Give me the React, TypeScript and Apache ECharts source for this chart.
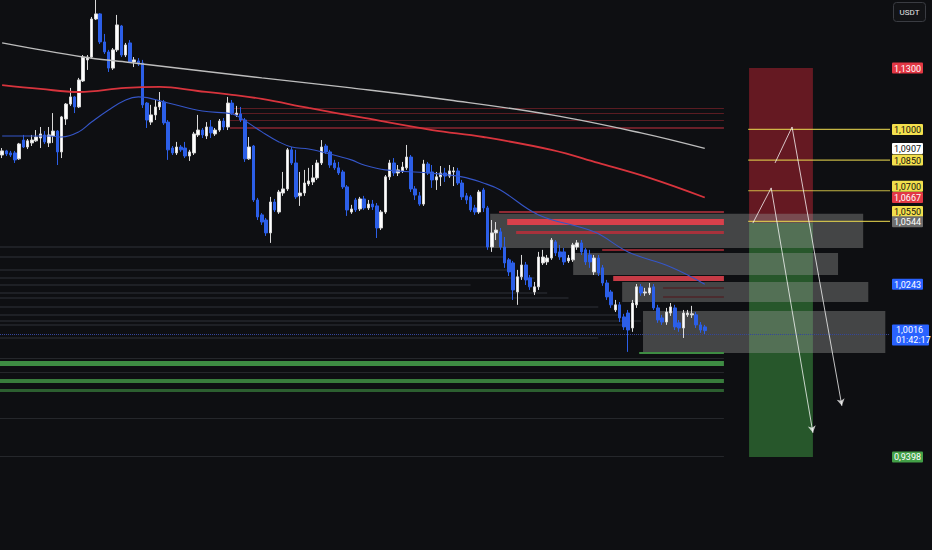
import React, { useEffect, useRef } from 'react';
import * as echarts from 'echarts';

const BG = '#0e0f12';
const FONT = 'Roboto, "Noto Sans", sans-serif';

// OHLC as [open, close, low, high]
const candles: number[][] = [
  [1.0875,1.0895,1.0860,1.0909],[1.0895,1.0880,1.0870,1.0900],[1.0885,1.0875,1.0865,1.0895],[1.0885,1.0851,1.0836,1.0895],
  [1.0856,1.0929,1.0851,1.0934],[1.0948,1.0914,1.0909,1.0973],[1.0914,1.0944,1.0904,1.0953],[1.0934,1.0948,1.0919,1.0973],
  [1.0944,1.0963,1.0939,1.0997],[1.0958,1.0978,1.0909,1.1012],[1.0973,1.0939,1.0929,1.0992],[1.0934,1.0973,1.0914,1.1012],
  [1.0968,1.0992,1.0934,1.1080],[1.0992,1.0890,1.0826,1.0997],[1.0890,1.1061,1.0860,1.1066],[1.1051,1.1124,1.1022,1.1129],
  [1.1124,1.1159,1.1115,1.1203],[1.1159,1.1110,1.1080,1.1164],[1.1110,1.1242,1.1105,1.1252],[1.1237,1.1354,1.1232,1.1364],
  [1.1340,1.1354,1.1291,1.1364],[1.1354,1.1540,1.1349,1.1550],[1.1540,1.1565,1.1535,1.1633],[1.1565,1.1428,1.1418,1.1569],
  [1.1428,1.1379,1.1369,1.1467],[1.1379,1.1300,1.1281,1.1389],[1.1300,1.1389,1.1291,1.1398],[1.1389,1.1511,1.1379,1.1560],
  [1.1506,1.1364,1.1354,1.1511],[1.1364,1.1413,1.1354,1.1423],[1.1423,1.1330,1.1325,1.1437],[1.1330,1.1340,1.1305,1.1354],
  [1.1335,1.1320,1.1310,1.1349],[1.1325,1.1120,1.1105,1.1340],[1.1129,1.1046,1.1007,1.1134],[1.1036,1.1071,1.1022,1.1120],
  [1.1071,1.1110,1.1046,1.1144],[1.1110,1.1134,1.1095,1.1183],[1.1134,1.1032,1.1022,1.1144],[1.1036,1.0900,1.0851,1.1046],
  [1.0909,1.0885,1.0875,1.0919],[1.0885,1.0914,1.0875,1.0939],[1.0914,1.0900,1.0890,1.0924],[1.0909,1.0870,1.0860,1.0939],
  [1.0870,1.0890,1.0846,1.0900],[1.0885,1.0978,1.0875,1.0988],[1.0973,1.0997,1.0963,1.1071],[1.0997,1.0973,1.0958,1.1007],
  [1.0968,1.1012,1.0953,1.1036],[1.1012,1.0983,1.0958,1.1046],[1.0978,1.0997,1.0968,1.1007],[1.0997,1.1041,1.0988,1.1051],
  [1.1041,1.1012,1.0997,1.1056],[1.1012,1.1129,1.0997,1.1159],[1.1129,1.1080,1.1071,1.1144],[1.1071,1.1080,1.1061,1.1115],
  [1.1076,1.1046,1.1036,1.1110],[1.1046,1.0856,1.0841,1.1056],[1.0856,1.0914,1.0851,1.0963],[1.0919,1.0655,1.0645,1.0924],
  [1.0655,1.0572,1.0557,1.0665],[1.0582,1.0547,1.0533,1.0591],[1.0557,1.0494,1.0479,1.0567],[1.0494,1.0645,1.0445,1.0670],
  [1.0645,1.0606,1.0596,1.0660],[1.0596,1.0694,1.0587,1.0704],[1.0689,1.0709,1.0675,1.0792],[1.0709,1.0900,1.0699,1.0909],
  [1.0900,1.0836,1.0826,1.0914],[1.0836,1.0670,1.0660,1.0900],[1.0675,1.0689,1.0626,1.0792],[1.0689,1.0738,1.0675,1.0802],
  [1.0733,1.0748,1.0723,1.0812],[1.0743,1.0763,1.0728,1.0826],[1.0763,1.0836,1.0753,1.0851],[1.0836,1.0914,1.0826,1.0948],
  [1.0919,1.0890,1.0880,1.0929],[1.0890,1.0826,1.0812,1.0900],[1.0836,1.0812,1.0802,1.0851],[1.0812,1.0787,1.0777,1.0841],
  [1.0792,1.0719,1.0709,1.0802],[1.0719,1.0606,1.0577,1.0728],[1.0596,1.0611,1.0587,1.0631],[1.0655,1.0606,1.0596,1.0665],
  [1.0611,1.0660,1.0601,1.0670],[1.0660,1.0616,1.0606,1.0675],[1.0616,1.0635,1.0606,1.0655],[1.0635,1.0621,1.0606,1.0655],
  [1.0626,1.0518,1.0469,1.0640],[1.0518,1.0596,1.0508,1.0606],[1.0596,1.0768,1.0587,1.0777],[1.0768,1.0836,1.0753,1.0851],
  [1.0836,1.0787,1.0772,1.0860],[1.0787,1.0802,1.0772,1.0826],[1.0797,1.0816,1.0787,1.0841],[1.0812,1.0865,1.0802,1.0924],
  [1.0865,1.0709,1.0694,1.0875],[1.0709,1.0679,1.0655,1.0723],[1.0675,1.0635,1.0626,1.0694],[1.0635,1.0831,1.0626,1.0851],
  [1.0831,1.0787,1.0777,1.0841],[1.0792,1.0753,1.0714,1.0826],[1.0753,1.0768,1.0704,1.0792],[1.0768,1.0787,1.0723,1.0821],
  [1.0787,1.0772,1.0743,1.0812],[1.0772,1.0797,1.0763,1.0826],[1.0792,1.0797,1.0723,1.0816],[1.0797,1.0738,1.0728,1.0812],
  [1.0738,1.0670,1.0655,1.0753],[1.0675,1.0655,1.0635,1.0689],[1.0670,1.0606,1.0596,1.0679],[1.0616,1.0596,1.0582,1.0631],
  [1.0596,1.0694,1.0587,1.0704],[1.0704,1.0616,1.0596,1.0714],[1.0616,1.0425,1.0411,1.0626],[1.0425,1.0494,1.0401,1.0557],
  [1.0494,1.0508,1.0459,1.0547],[1.0499,1.0425,1.0411,1.0518],[1.0425,1.0347,1.0323,1.0474],[1.0362,1.0303,1.0283,1.0371],
  [1.0347,1.0215,1.0166,1.0357],[1.0205,1.0279,1.0142,1.0313],[1.0279,1.0337,1.0264,1.0386],[1.0337,1.0264,1.0239,1.0352],
  [1.0274,1.0230,1.0215,1.0288],[1.0205,1.0230,1.0190,1.0254],[1.0230,1.0376,1.0215,1.0401],[1.0347,1.0376,1.0337,1.0411],
  [1.0352,1.0371,1.0337,1.0386],[1.0371,1.0459,1.0362,1.0469],[1.0450,1.0396,1.0381,1.0459],[1.0401,1.0376,1.0362,1.0435],
  [1.0401,1.0352,1.0337,1.0420],[1.0357,1.0371,1.0347,1.0386],[1.0362,1.0435,1.0352,1.0445],[1.0425,1.0445,1.0411,1.0459],
  [1.0445,1.0401,1.0386,1.0459],[1.0411,1.0352,1.0337,1.0420],[1.0386,1.0352,1.0323,1.0411],[1.0303,1.0371,1.0288,1.0386],
  [1.0371,1.0298,1.0283,1.0386],[1.0323,1.0249,1.0235,1.0337],[1.0249,1.0181,1.0166,1.0264],[1.0205,1.0142,1.0127,1.0215],
  [1.0117,1.0142,1.0107,1.0166],[1.0142,1.0078,1.0058,1.0156],[1.0083,1.0034,1.0019,1.0098],[1.0102,1.0019,0.9912,1.0117],
  [1.0029,1.0151,1.0010,1.0166],[1.0142,1.0230,1.0127,1.0244],[1.0230,1.0200,1.0186,1.0244],[1.0200,1.0205,1.0186,1.0225],
  [1.0200,1.0225,1.0190,1.0249],[1.0230,1.0127,1.0117,1.0244],[1.0127,1.0068,1.0054,1.0142],[1.0078,1.0058,1.0044,1.0093],
  [1.0058,1.0107,1.0044,1.0127],[1.0102,1.0132,1.0088,1.0151],[1.0127,1.0034,1.0019,1.0142],[1.0054,1.0029,1.0010,1.0068],
  [1.0029,1.0102,0.9980,1.0117],[1.0093,1.0102,1.0083,1.0117],[1.0093,1.0098,1.0078,1.0137],[1.0093,1.0044,1.0029,1.0107],
  [1.0044,1.0019,1.0005,1.0058],[1.0034,1.0016,0.9995,1.0044],
];

const SLOTS = 209;
const categories = Array.from({ length: SLOTS }, (_, i) => String(i));

// moving averages: [bar index, price]
const maWhite: number[][] = [
  [0, 1.1423], [19, 1.1354], [29, 1.1330], [61, 1.1252], [82, 1.1203], [105, 1.1144], [129, 1.1071], [150, 1.0983], [165, 1.0907],
];
const maRed: number[][] = [
  [0, 1.1217], [9, 1.1198], [18, 1.1183], [29, 1.1203], [37, 1.1208], [46, 1.1188], [54, 1.1169], [61, 1.1149],
  [72, 1.1105], [85, 1.1056], [101, 1.0997], [113, 1.0963], [129, 1.0900], [140, 1.0836], [152, 1.0763], [165, 1.0667],
];
const maBlue: number[][] = [
  [0, 1.0968], [11, 1.0968], [14, 1.0963], [18, 1.0988], [21, 1.1036], [25, 1.1095], [29, 1.1144], [32, 1.1159],
  [39, 1.1129], [47, 1.1090], [54, 1.1076], [56, 1.1056], [61, 1.0988], [65, 1.0939], [68, 1.0914], [72, 1.0904],
  [76, 1.0885], [82, 1.0851], [85, 1.0826], [90, 1.0802], [100, 1.0787], [108, 1.0768], [113, 1.0738], [117, 1.0704],
  [126, 1.0582], [139, 1.0499], [147, 1.0401], [157, 1.0327], [165, 1.0243],
];

// horizontal levels
const levelsEnd = 169.5;
const upperRedLevels = [1.1105, 1.1080, 1.1046, 1.1007];
const upperRedStart = 53.5;
const supplyLevels = [1.0596, 1.0547, 1.0499, 1.0411, 1.0271, 1.0225, 1.0181];
const supplyStarts = [116.7, 118.6, 120.7, 140.9, 143.5, 155.2, 155.2];
const greenLevels = [0.9858, 0.9770, 0.9724];
const greenShortLevel = 0.9907;
const greenShortStart = 149.6;
const grayLowerLevels = [0.9882, 0.9814, 0.9589, 0.9403];
const profileLevels = [1.0425, 1.0376, 1.0313, 1.0274, 1.0239, 1.0200, 1.0176, 1.0132, 1.0093, 1.0063, 1.0044, 0.9980];
const profileEnds = [115, 118, 120, 125, 110, 128, 133, 140, 145, 150, 147, 140];

// zones [fromIndex, toIndex, topPrice, bottomPrice]
const zones: number[][] = [
  [114.6, 202.2, 1.0587, 1.0420],
  [134.1, 196.3, 1.0396, 1.0288],
  [145.6, 203.4, 1.0254, 1.0156],
  [150.5, 207.4, 1.0112, 0.9907],
];

// position tool
const positionSpan = [175.4, 190.4];
const stopPrice = 1.13;
const entryPrice = 1.0544;
const targetPrice = 0.9398;
const targetLevels = [1.1, 1.085, 1.07, 1.055];
const targetLevelStart = 175.2;

// projected paths: start, peak, end as [bar index, price]
const path1: number[][] = [[176.3, 1.0542], [180.6, 1.0714], [190.4, 0.9516]];
const path2: number[][] = [[181.5, 1.0836], [185.5, 1.1012], [197.2, 0.9648]];

const lastPrice = 1.0016;
const countdown = '01:42:17';

const tagValues = [1.13, 1.1, 1.0907, 1.085, 1.07, 1.0667, 1.055, 1.0544, 1.0243, 0.9398];
const tagKinds = ['red', 'yellow', 'white', 'yellow', 'yellow', 'red', 'yellow', 'gray', 'blue', 'green'];
const tagShift = [0, 0, 0, 0, -4.5, 0, -10, -1, 0, 0];

const fmt = (v: number) => v.toFixed(4).replace('.', ',');

const tagStyles: Record<string, { bg: string; fg: string }> = {
  red: { bg: '#e23744', fg: '#ffffff' },
  yellow: { bg: '#f3df4d', fg: '#111111' },
  white: { bg: '#ffffff', fg: '#111111' },
  gray: { bg: '#6e6e6e', fg: '#ffffff' },
  blue: { bg: '#2962ff', fg: '#ffffff' },
  green: { bg: '#43a047', fg: '#ffffff' },
};

function seg(x1: number, x2: number, y: number, color: string, width: number) {
  return [
    { coord: [x1, y], lineStyle: { color, width, type: 'solid' } },
    { coord: [x2, y] },
  ];
}

function markerSeries(name: string, z: number, markLine: any) {
  return { name, type: 'line', xAxisIndex: 1, data: [], z, markLine: { silent: true, z, ...markLine } };
}

export default function App() {
  const ref = useRef<HTMLDivElement>(null);

  useEffect(() => {
    if (!ref.current) return;
    const chart = echarts.init(ref.current, null, { renderer: 'svg' });

    const levelLines: any[] = [];
    upperRedLevels.forEach((p, i) =>
      levelLines.push(seg(upperRedStart, levelsEnd, p, i === 3 ? '#8a2630' : '#5a1c22', i === 3 ? 1.5 : 1.2)),
    );
    const supplyColors = ['#8f2a33', '#d8404b', '#a8323c', '#8a262f', '#c63b46', '#4e2528', '#4e2528'];
    const supplyWidths = [2, 6, 3, 2, 5, 1.5, 1.5];
    supplyLevels.forEach((p, i) => levelLines.push(seg(supplyStarts[i], levelsEnd, p, supplyColors[i], supplyWidths[i])));
    const greenColors = ['#3e8c43', '#387c3c', '#2c5f30'];
    const greenWidths = [5, 4, 3];
    greenLevels.forEach((p, i) => levelLines.push(seg(-0.5, levelsEnd, p, greenColors[i], greenWidths[i])));
    levelLines.push(seg(greenShortStart, levelsEnd, greenShortLevel, '#3e8c43', 2));
    grayLowerLevels.forEach((p) => levelLines.push(seg(-0.5, levelsEnd, p, '#25272b', 1.2)));
    profileLevels.forEach((p, i) => levelLines.push(seg(-0.5, profileEnds[i], p, '#25272c', 1.6)));

    const arrowUp = [
      [{ coord: path1[0] }, { coord: path1[1] }],
      [{ coord: path2[0] }, { coord: path2[1] }],
    ];
    const arrowDown = [
      [{ coord: path1[1] }, { coord: path1[2] }],
      [{ coord: path2[1] }, { coord: path2[2] }],
    ];

    const yellowSeries = targetLevels.map((p, i) => ({
      name: 'target' + i,
      type: 'line',
      xAxisIndex: 1,
      data: [[targetLevelStart, p], [SLOTS - 0.5, p]],
      showSymbol: false,
      silent: true,
      z: 5,
      lineStyle: { color: '#e3d24e', width: 1.2, opacity: 0.85 },
    }));

    const option: any = {
      animation: false,
      backgroundColor: BG,
      grid: { left: 0, right: 42, top: 0, bottom: 0, containLabel: false },
      xAxis: [
        { type: 'category', data: categories, show: false, boundaryGap: true },
        { type: 'value', min: -0.5, max: SLOTS - 0.5, show: false },
      ],
      yAxis: { type: 'value', min: 0.8943, max: 1.1633, show: false },
      series: [
        {
          name: 'position',
          type: 'line',
          xAxisIndex: 1,
          data: [],
          z: 1,
          markArea: {
            silent: true,
            z: 1,
            data: [
              [
                { coord: [positionSpan[0], stopPrice], itemStyle: { color: 'rgba(125,28,38,0.78)' } },
                { coord: [positionSpan[1], entryPrice] },
              ],
              [
                { coord: [positionSpan[0], entryPrice], itemStyle: { color: 'rgba(46,108,50,0.78)' } },
                { coord: [positionSpan[1], targetPrice] },
              ],
            ],
          },
        },
        {
          name: 'zones',
          type: 'line',
          xAxisIndex: 1,
          data: [],
          z: 2,
          markArea: {
            silent: true,
            z: 2,
            data: zones.map((zn) => [
              { coord: [zn[0], zn[2]], itemStyle: { color: 'rgba(150,150,150,0.4)' } },
              { coord: [zn[1], zn[3]] },
            ]),
          },
        },
        markerSeries('levels', 2, { symbol: ['none', 'none'], label: { show: false }, data: levelLines }),
        {
          name: 'price',
          type: 'candlestick',
          xAxisIndex: 0,
          data: candles,
          barWidth: 3,
          z: 3,
          itemStyle: {
            color: '#ffffff',
            color0: '#2c5fe8',
            borderColor: '#d9d9d9',
            borderColor0: '#2c5fe8',
            borderWidth: 1,
          },
        },
        {
          name: 'MA slow',
          type: 'line',
          xAxisIndex: 1,
          data: maWhite,
          smooth: 0.4,
          showSymbol: false,
          z: 4,
          lineStyle: { color: '#bdbdbd', width: 1.4 },
        },
        {
          name: 'MA mid',
          type: 'line',
          xAxisIndex: 1,
          data: maRed,
          smooth: 0.4,
          showSymbol: false,
          z: 4,
          lineStyle: { color: '#d8343d', width: 1.8 },
        },
        {
          name: 'MA fast',
          type: 'line',
          xAxisIndex: 1,
          data: maBlue,
          smooth: 0.4,
          showSymbol: false,
          z: 4,
          lineStyle: { color: '#3556c8', width: 1.1 },
        },
        ...yellowSeries,
        markerSeries('lastPrice', 6, {
          symbol: ['none', 'none'],
          label: { show: false },
          lineStyle: { color: '#34469a', width: 1, type: 'dotted' },
          data: [{ yAxis: lastPrice }],
        }),
        markerSeries('pathUp', 7, {
          symbol: ['none', 'none'],
          label: { show: false },
          lineStyle: { color: 'rgba(255,255,255,0.75)', width: 1, type: 'solid' },
          data: arrowUp,
        }),
        markerSeries('pathDown', 7, {
          symbol: ['none', 'arrow'],
          symbolSize: [6, 7],
          label: { show: false },
          lineStyle: { color: 'rgba(255,255,255,0.75)', width: 1, type: 'solid' },
          data: arrowDown,
        }),
      ],
    };

    chart.setOption(option);

    // price-scale tags placed through the chart's own y scale
    const xTag = (chart.convertToPixel({ xAxisIndex: 1 }, SLOTS - 0.5) as number) + 2;
    const tagW = 31;
    const tagH = 11;
    const graphics: any[] = tagValues.map((v, i) => {
      const y = (chart.convertToPixel({ yAxisIndex: 0 }, v) as number) + tagShift[i];
      const st = tagStyles[tagKinds[i]];
      return {
        type: 'group',
        x: xTag,
        y: y - tagH / 2,
        z: 50,
        children: [
          { type: 'rect', shape: { x: 0, y: 0, width: tagW, height: tagH, r: 1 }, style: { fill: st.bg } },
          {
            type: 'text',
            x: tagW / 2,
            y: tagH / 2 + 0.5,
            style: { text: fmt(v), fill: st.fg, fontSize: 9, fontFamily: FONT, align: 'center', verticalAlign: 'middle' },
          },
        ],
      };
    });
    const yLast = chart.convertToPixel({ yAxisIndex: 0 }, lastPrice) as number;
    graphics.push({
      type: 'group',
      x: xTag,
      y: yLast - 6,
      z: 50,
      children: [
        { type: 'rect', shape: { x: 0, y: 0, width: 37, height: 21, r: 1 }, style: { fill: tagStyles.blue.bg } },
        {
          type: 'text',
          x: 4,
          y: 5.5,
          style: { text: fmt(lastPrice), fill: '#ffffff', fontSize: 9, fontFamily: FONT, align: 'left', verticalAlign: 'middle' },
        },
        {
          type: 'text',
          x: 4,
          y: 15.5,
          style: { text: countdown, fill: '#ffffff', fontSize: 9, fontFamily: FONT, align: 'left', verticalAlign: 'middle' },
        },
      ],
    });
    graphics.push({
      type: 'group',
      right: 6,
      top: 2,
      children: [
        {
          type: 'rect',
          shape: { x: 0, y: 0, width: 32, height: 19, r: 3 },
          style: { fill: '#121316', stroke: '#3a3c42', lineWidth: 1 },
        },
        {
          type: 'text',
          x: 16,
          y: 9.5,
          style: { text: 'USDT', fill: '#e6e6e6', fontSize: 8, fontFamily: FONT, align: 'center', verticalAlign: 'middle' },
        },
      ],
    });
    chart.setOption({ graphic: graphics });

    return () => chart.dispose();
  }, []);

  return (
    <div
      ref={ref}
      style={{ position: 'fixed', left: 0, top: 0, width: 932, height: 550, background: BG }}
    />
  );
}
